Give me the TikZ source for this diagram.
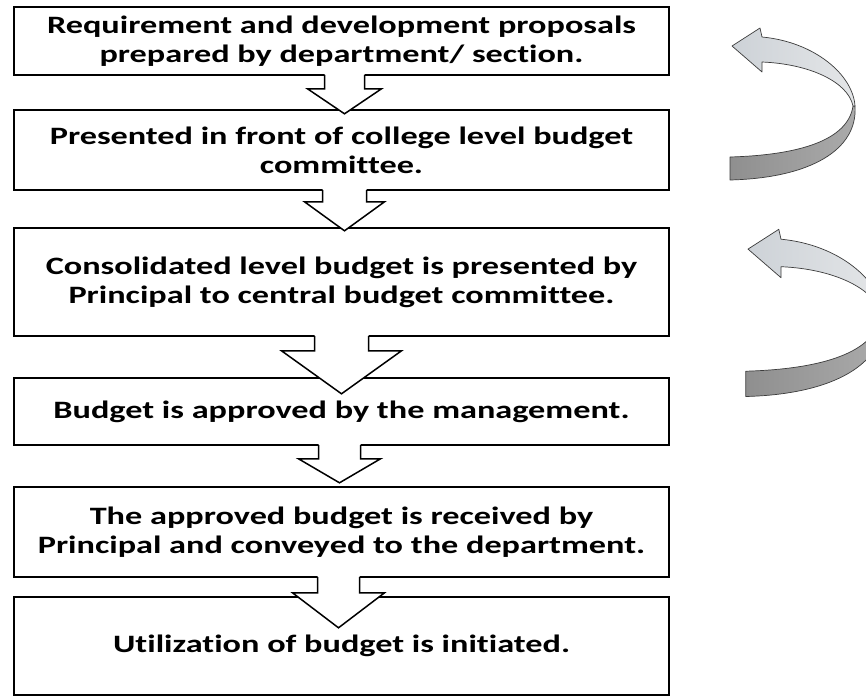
\documentclass[tikz,border=0pt]{standalone}
\usepackage{fontspec}
\setmainfont{Carlito}[FakeStretch=1.37, Ligatures=NoCommon]
\usetikzlibrary{calc}
\definecolor{ribbonlight}{HTML}{CDD2D7}
\definecolor{ribbonlighttwo}{HTML}{E4E6E8}
\definecolor{ribbondark}{HTML}{ABABAB}
\definecolor{ribbondarktwo}{HTML}{8F8F8F}
\definecolor{ribbonline}{HTML}{3C3C3C}
\tikzset{
  stepbox/.style={draw=black, line width=1.6pt, fill=white, minimum width=655pt,
    inner sep=0pt, align=center, font=\fontsize{25}{29}\selectfont\bfseries},
  blockline/.style={draw=black, line width=1.5pt, line join=miter},
  ribbonedge/.style={draw=ribbonline, line width=0.7pt, line join=round},
}
% #1 node, #2 x offset, #3 shaft half width, #4 head half width, #5 head base depth, #6 tip depth
\newcommand\blockdown[6]{%
  \fill[white] ($(#1.south)+(#2-#3,-2)$) -- ($(#1.south)+(#2-#3,#5)$) -- ($(#1.south)+(#2-#4,#5)$)
     -- ($(#1.south)+(#2,#6)$) -- ($(#1.south)+(#2+#4,#5)$) -- ($(#1.south)+(#2+#3,#5)$)
     -- ($(#1.south)+(#2+#3,-2)$) -- cycle;
  \draw[blockline] ($(#1.south)+(#2-#3,-0.8)$) -- ($(#1.south)+(#2-#3,#5)$) -- ($(#1.south)+(#2-#4,#5)$)
     -- ($(#1.south)+(#2,#6)$) -- ($(#1.south)+(#2+#4,#5)$) -- ($(#1.south)+(#2+#3,#5)$)
     -- ($(#1.south)+(#2+#3,-0.8)$);
}
\newcommand\ribbonshape{%
  \shade[ribbonedge, left color=ribbondarktwo, right color=ribbondark]
    (853,106) .. controls (848,140) and (800,155) .. (730,157) -- (730,180)
    .. controls (810,178) and (858,150) .. (855,106) -- cycle;
  \shade[ribbonedge, left color=ribbonlight, right color=ribbonlighttwo]
    (855,106) .. controls (853,75) and (815,42) .. (762,37) -- (760,28) -- (732,46)
    -- (762,72) -- (762,62) .. controls (810,64) and (848,82) .. (853,106) -- cycle;
}
\begin{document}
\begin{tikzpicture}[x=1pt,y=-1pt]
  \useasboundingbox (0,0) rectangle (866,698);
  \fill[white] (0,0) rectangle (866,698);

  \node[stepbox, minimum height=68pt]  (b1) at (341.5,41)  {Requirement and development proposals\\prepared by department/ section.};
  \node[stepbox, minimum height=80pt]  (b2) at (341.5,150) {Presented in front of college level budget\\committee.};
  \node[stepbox, minimum height=108pt] (b3) at (341.5,282) {Consolidated level budget is presented by\\Principal to central budget committee.};
  \node[stepbox, minimum height=67pt]  (b4) at (341.5,411.5) {Budget is approved by the management.};
  \node[stepbox, minimum height=90pt]  (b5) at (341.5,532) {The approved budget is received by\\Principal and conveyed to the department.};
  \node[stepbox, minimum height=98pt]  (b6) at (341.5,646) {Utilization of budget is initiated.};

  \blockdown{b1}{3}{20}{37}{13}{38}
  \blockdown{b2}{3}{22}{40}{11}{40}
  \blockdown{b3}{0}{27}{60}{14}{57}
  \blockdown{b4}{-2}{21}{41}{13}{37}
  \blockdown{b5}{-3}{21}{46}{15}{50}

  \begin{scope}
    \clip (0,0) rectangle (866,698);
    \ribbonshape
    \begin{scope}[shift={(748,248)}, scale=1.1, shift={(-732,-45)}]
      \ribbonshape
    \end{scope}
  \end{scope}
\end{tikzpicture}
\end{document}
